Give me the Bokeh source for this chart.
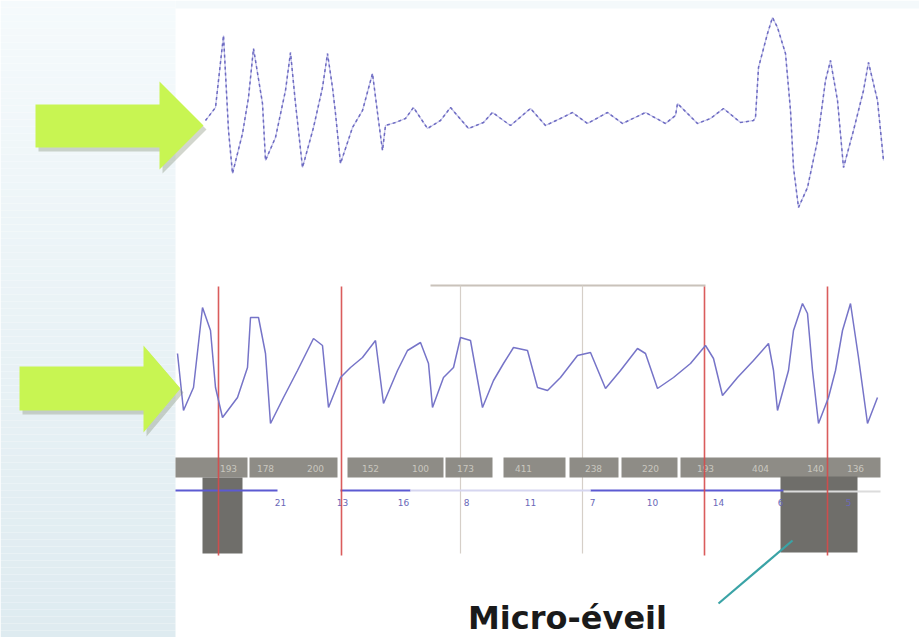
from bokeh.plotting import figure
from bokeh.models import Range1d
from bokeh.core.properties import value
from bokeh.embed import file_html
from bokeh.resources import INLINE

# ---------------- data (pixel units) ----------------
top_x = [205, 215, 223, 228, 232, 242, 248, 253, 262, 265, 275, 285, 290, 295, 302, 313, 322, 327,
         332, 335, 340, 352, 362, 372, 378, 382, 385, 395, 405, 413, 427, 440, 450, 468, 483, 492,
         510, 530, 545, 562, 572, 587, 607, 622, 645, 665, 675, 677, 697, 710, 723, 740, 753, 755,
         758, 767, 772, 777, 785, 790, 793, 798, 807, 817, 825, 830, 837, 843, 853, 863, 868, 877, 883]
top_y = [120, 107, 35, 130, 173, 133, 97, 48, 103, 160, 137, 90, 52, 103, 167, 127, 87, 53,
         87, 113, 163, 127, 110, 73, 120, 150, 125, 122, 118, 107, 128, 120, 107, 128, 122, 112,
         125, 108, 125, 117, 112, 123, 112, 123, 112, 123, 115, 103, 123, 118, 108, 122, 120, 117,
         67, 33, 17, 27, 53, 110, 167, 207, 187, 140, 80, 60, 100, 167, 130, 90, 62, 100, 160]

bot_x = [177, 183, 193, 202, 210, 215, 222, 237, 247, 250, 258, 265, 270, 283, 297, 313, 322, 328,
         340, 350, 362, 375, 383, 397, 407, 420, 428, 432, 443, 453, 460, 470, 482, 493, 503, 513,
         527, 537, 547, 560, 577, 590, 605, 620, 637, 645, 657, 673, 690, 705, 713, 722, 737, 753,
         768, 773, 777, 788, 793, 802, 807, 812, 818, 828, 835, 842, 850, 858, 867, 877]
bot_y = [353, 410, 387, 307, 330, 387, 417, 397, 367, 317, 317, 353, 423, 397, 370, 338, 345, 407,
         377, 367, 357, 340, 403, 370, 350, 342, 363, 407, 377, 367, 337, 340, 407, 380, 363, 347,
         350, 387, 390, 377, 355, 352, 388, 370, 348, 353, 388, 377, 363, 345, 358, 395, 377, 360,
         343, 370, 410, 370, 330, 303, 313, 370, 423, 397, 370, 330, 303, 357, 423, 397]

bar_labels = ["193", "178", "200", "152", "100", "173", "411", "238", "220", "193", "404", "140", "136"]
bar_label_x = [228, 265, 315, 370, 420, 465, 523, 593, 650, 705, 760, 815, 855]
count_labels = ["21", "13", "16", "8", "11", "7", "10", "14", "6", "5"]
count_x = [280, 342, 403, 466, 530, 592, 652, 718, 780, 848]
red_x = [218, 341, 704, 827]
gray_x = [460, 582]

# ---------------- figure ----------------
W, H = 919, 637
p = figure(width=W, height=H, x_range=Range1d(0, W), y_range=Range1d(H, 0),
           output_backend="svg", toolbar_location=None, min_border=0)
p.axis.visible = False
p.grid.visible = False
p.outline_line_color = None
p.background_fill_color = "#ffffff"
p.border_fill_color = "#ffffff"

# left gradient panel
step = 7
tops, bots, cols = [], [], []
c0, c1 = (245, 250, 252), (222, 235, 240)
y = 0
while y < H:
    t = y / H
    c = tuple(int(round(c0[i] + (c1[i] - c0[i]) * t)) for i in range(3))
    tops.append(y); bots.append(min(y + step, H)); cols.append("#%02x%02x%02x" % c)
    y += step
p.quad(left=0, right=175, top=tops, bottom=bots, fill_color=cols, line_color=None)
p.quad(left=175, right=W, top=0, bottom=8, fill_color="#f4f9fb", line_color=None)

# chart structure lines
p.segment(x0=430, y0=285, x1=705, y1=285, line_color="#c9c2ba", line_width=2)
p.segment(x0=gray_x, y0=[285] * len(gray_x), x1=gray_x, y1=[553] * len(gray_x),
          line_color="#d6cfc8", line_width=1.2)

# gray label bar
box_l = [175, 249, 347, 445, 503, 569, 621, 680]
box_r = [247, 337, 443, 492, 565, 618, 677, 880]
p.quad(left=box_l, right=box_r, top=457, bottom=477, fill_color="#8e8c86", line_color=None)
p.text(x=bar_label_x, y=[468] * len(bar_label_x), text=bar_labels, text_font=value("DejaVu Sans"),
       text_font_size="9px", text_color="#c9c7bf", text_align="center", text_baseline="middle")

# dark boxes (micro-arousal)
p.quad(left=[202, 780], right=[242, 857], top=[477, 476], bottom=[553, 552],
       fill_color="#6f6e6a", line_color=None)

# blue baseline
p.segment(x0=[175, 340, 590, 410], y0=[490] * 4, x1=[277, 410, 783, 590], y1=[490] * 4,
          line_color=["#5c5ad2", "#5c5ad2", "#5c5ad2", "#d6d6f0"], line_width=2)
p.segment(x0=783, y0=491, x1=880, y1=491, line_color="#dcdcdc", line_width=2)
p.text(x=count_x, y=[502] * len(count_x), text=count_labels, text_font=value("DejaVu Sans"),
       text_font_size="9px", text_color="#6a68b8", text_align="center", text_baseline="middle")

# red event markers
p.segment(x0=red_x, y0=[286] * len(red_x), x1=red_x, y1=[555] * len(red_x),
          line_color="#d64a4a", line_width=1.6, line_alpha=0.9)

# traces
p.line(top_x, top_y, line_color="#c4c3ea", line_width=1.2)
p.line(top_x, top_y, line_color="#6d6bc2", line_width=1.5, line_dash="3 3")
p.line(bot_x, bot_y, line_color="#7674c8", line_width=1.5)

# teal pointer + label
p.segment(x0=718, y0=603, x1=792, y1=540, line_color="#3aa3a6", line_width=2.2)
p.text(x=[567], y=[617], text=["Micro-éveil"], text_font=value("DejaVu Sans"),
       text_font_size="32px", text_font_style="bold", text_color="#1a1a1a",
       text_align="center", text_baseline="middle")

# green arrows (with soft shadow)
a1x = [35, 159, 159, 203, 159, 159, 35]
a1y = [104, 104, 81, 125, 169, 147, 147]
a2x = [19, 143, 143, 180, 143, 143, 19]
a2y = [366, 366, 345, 388, 432, 410, 410]
for ax, ay in [(a1x, a1y), (a2x, a2y)]:
    p.patch([v + 3 for v in ax], [v + 4 for v in ay], fill_color="#7d8a70", fill_alpha=0.35, line_color=None)
    p.patch(ax, ay, fill_color="#c8f552", line_color=None)

open("out.html", "w").write(file_html(p, INLINE))
